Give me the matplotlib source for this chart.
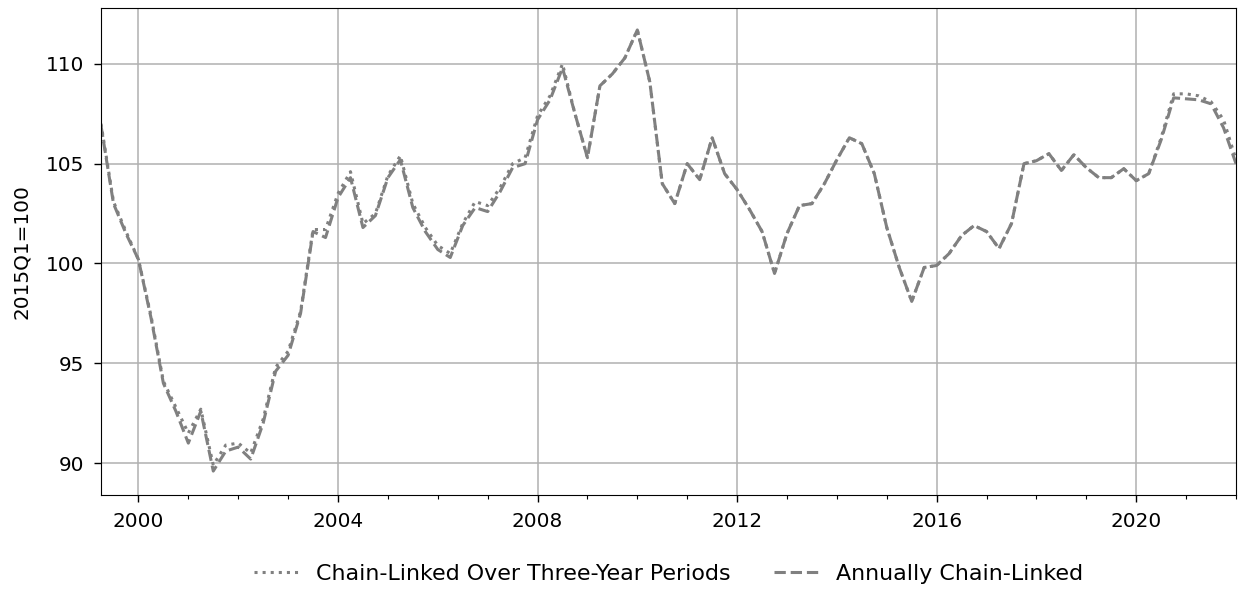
import numpy as np
import pandas as pd
import matplotlib
matplotlib.use('Agg')
import matplotlib.pyplot as plt
from matplotlib.ticker import MultipleLocator

# Quarterly volume index, 2015Q1=100
quarters = pd.period_range('1999Q2', '2022Q1', freq='Q')

annual = [106.9, 103.0, 101.5,
          100.2, 97.3, 94.0, 92.6,
          91.0, 92.6, 89.6, 90.6,
          90.8, 90.2, 92.0, 94.6,
          95.4, 97.5, 101.6, 101.3,
          103.3, 104.3, 101.8, 102.4,
          104.3, 105.2, 102.8, 101.6,
          100.7, 100.3, 101.9, 102.8,
          102.6, 103.6, 104.8, 105.0,
          107.2, 108.2, 109.8, 107.5,
          105.3, 108.9, 109.5, 110.3,
          111.7, 109.1, 104.0, 103.0,
          105.0, 104.2, 106.3, 104.5,
          103.7, 102.7, 101.6, 99.5,
          101.5, 102.9, 103.0, 104.0,
          105.2, 106.3, 106.0, 104.5,
          101.8, 99.8, 98.1, 99.8,
          99.9, 100.5, 101.4, 101.9,
          101.6, 100.75, 102.0, 105.0,
          105.15, 105.5, 104.66, 105.45,
          104.8, 104.3, 104.3, 104.75,
          104.15, 104.5, 106.2, 108.3,
          108.25, 108.2, 108.0, 106.8,
          105.0]

three_year = [107.0, 103.1, 101.6,
              100.2, 97.4, 94.1, 92.8,
              91.5, 92.7, 89.9, 90.9,
              91.0, 90.5, 92.2, 94.8,
              95.6, 97.6, 101.7, 101.7,
              103.5, 104.6, 102.0, 102.5,
              104.4, 105.4, 103.0, 101.8,
              100.9, 100.5, 102.0, 103.1,
              102.9, 103.8, 105.0, 105.3,
              107.4, 108.4, 110.0, 107.5,
              105.3, 108.9, 109.5, 110.3,
              111.7, 109.1, 104.0, 103.0,
              105.0, 104.2, 106.3, 104.5,
              103.7, 102.7, 101.6, 99.5,
              101.5, 102.9, 103.0, 104.0,
              105.2, 106.3, 106.0, 104.5,
              101.8, 99.8, 98.1, 99.8,
              99.9, 100.5, 101.4, 101.9,
              101.6, 100.75, 102.0, 105.0,
              105.15, 105.5, 104.66, 105.45,
              104.8, 104.3, 104.3, 104.75,
              104.15, 104.5, 106.3, 108.5,
              108.5, 108.4, 108.1, 107.2,
              105.2]

# decimal year positions for each quarter
x = quarters.year + (quarters.quarter - 1) / 4.0

plt.rcParams['font.size'] = 14.4

fig, ax = plt.subplots(figsize=(12.38, 5.89), dpi=100)
fig.subplots_adjust(left=0.0816, right=0.9984, top=0.9864, bottom=0.1596)

ax.plot(x, three_year, color='grey', linestyle=':', linewidth=2.2,
        label='Chain-Linked Over Three-Year Periods')
ax.plot(x, annual, color='grey', linestyle='--', linewidth=2.2,
        label='Annually Chain-Linked')

ax.set_xlim(x[0], x[-1])
ax.set_ylim(88.4, 112.8)
ax.xaxis.set_major_locator(MultipleLocator(4))
ax.xaxis.set_minor_locator(MultipleLocator(1))
ax.yaxis.set_major_locator(MultipleLocator(5))
ax.tick_params(which='major', length=5, width=1, pad=7)
ax.tick_params(which='minor', length=3, width=0.8)
ax.grid(True, color='#b0b0b0', linewidth=1.1)
ax.set_ylabel('2015Q1=100', labelpad=11)

fig.legend(loc='center', bbox_to_anchor=(0.54, 0.026), ncol=2, frameon=False,
           fontsize=15.9, handlelength=2.0, columnspacing=2.0)

fig.savefig('out.png', dpi=100, facecolor='white')
